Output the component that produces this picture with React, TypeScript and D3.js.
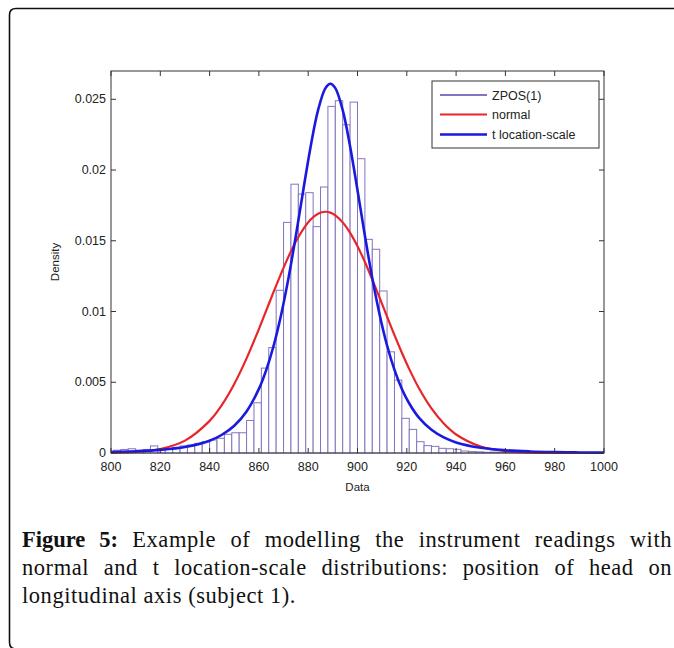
import React from "react";
import * as d3 from "d3";

// ---- data ----
const binStarts = [
  801, 804, 807, 810, 813, 816, 819, 822, 825, 828, 831, 834, 837, 840, 843, 846, 849, 852, 855, 858,
  861, 864, 867, 870, 873, 876, 879, 882, 885, 888, 891, 894, 897, 900, 903, 906, 909, 912, 915, 918,
  921, 924, 927, 930, 933, 936, 939, 942, 945, 948, 951, 954, 957, 960, 963, 966, 969, 972, 975, 978,
];
const binWidth = 3;
const binDensity = [
  0.0002, 0.00025, 0.0003, 0.0002, 0.00025, 0.0005, 0.0003, 0.0003, 0.0004, 0.0005, 0.00056, 0.00068, 0.0008,
  0.00092, 0.00104, 0.00132, 0.00143, 0.00143, 0.0023, 0.00355, 0.006, 0.00745, 0.0115, 0.0163, 0.019, 0.0183,
  0.0184, 0.016, 0.0188, 0.0245, 0.0249, 0.0232, 0.0248, 0.0208, 0.0151, 0.0144, 0.01145, 0.00715, 0.00515,
  0.00245, 0.00167, 0.0008, 0.00052, 0.00047, 0.00033, 0.0003, 0.00026, 0.00014, 0.0001, 0.00008, 0.00005,
  0.00006, 0.00004, 0.00003, 0.00002, 0.00002, 0.00001, 0.00001, 0.00001, 0.00002,
];

const curveX = [
  800, 810, 820, 830, 840, 845, 850, 855, 860, 863, 866, 869, 872, 875, 878, 881, 884, 887, 889, 891, 894,
  897, 900, 903, 906, 909, 912, 915, 918, 921, 925, 930, 935, 940, 950, 960, 970, 980, 990, 1000,
];
const normalY = [
  0.000017, 0.000076, 0.000283, 0.000877, 0.00227, 0.0034, 0.00488, 0.00669, 0.00876, 0.01008, 0.0114, 0.01268,
  0.01388, 0.01495, 0.01583, 0.0165, 0.01691, 0.01705, 0.01699, 0.0168, 0.0163, 0.01556, 0.01461, 0.0135, 0.01226,
  0.01096, 0.00964, 0.00833, 0.00709, 0.00593, 0.00456, 0.00315, 0.00208, 0.00131, 0.000455, 0.000131, 0.0000316,
  0.0000063, 0.000001, 0.0,
];
const tlsY = [
  0.0000722, 0.000123, 0.000221, 0.000424, 0.000872, 0.00129, 0.00193, 0.00294, 0.00453, 0.00588, 0.0076, 0.00976,
  0.01236, 0.01536, 0.01857, 0.02167, 0.02423, 0.02579, 0.0261, 0.02579, 0.02423, 0.02167, 0.01857, 0.01536,
  0.01236, 0.00976, 0.0076, 0.00588, 0.00453, 0.0035, 0.00248, 0.00164, 0.0011, 0.00075, 0.00037, 0.000196,
  0.00011, 0.0000653, 0.0000405, 0.0000261,
];

const xTicks = [800, 820, 840, 860, 880, 900, 920, 940, 960, 980, 1000];
const yTicks = [0, 0.005, 0.01, 0.015, 0.02, 0.025];
const yTickLabels = ["0", "0.005", "0.01", "0.015", "0.02", "0.025"];
const legendLabels = ["ZPOS(1)", "normal", "t location-scale"];
const captionLines = [
  "Example of modelling the instrument readings with",
  "normal and t location-scale distributions: position of head on",
  "longitudinal axis (subject 1).",
];

// ---- layout ----
const W = 674;
const H = 648;
const L = 111;
const R = 604;
const T = 71;
const B = 453;

const barColor = "#8474bd";
const redColor = "#e8262a";
const blueColor = "#1a1adf";
const sans = "'Liberation Sans', Arial, sans-serif";
const serif = "'Liberation Serif', 'Times New Roman', serif";

export default function App() {
  const x = d3.scaleLinear().domain([800, 1000]).range([L, R]);
  const y = d3.scaleLinear().domain([0, 0.027]).range([B, T]);

  const line = d3
    .line<[number, number]>()
    .x((d) => x(d[0]))
    .y((d) => y(d[1]))
    .curve(d3.curveCatmullRom.alpha(0.5));

  const normalPts = curveX.map((v, i) => [v, normalY[i]] as [number, number]);
  const tPts = curveX.map((v, i) => [v, tlsY[i]] as [number, number]);

  const tickLen = 5;

  const legX = 432;
  const legY = 81;
  const legW = 167;
  const legH = 67;
  const legRows = [95, 114.5, 134.5];
  const legColors = [barColor, redColor, blueColor];
  const legWidths = [2, 2, 2.5];

  return (
    <div style={{ position: "absolute", left: 0, top: 0, width: W, height: H, background: "#fff" }}>
      <svg width={W} height={H} style={{ position: "absolute", left: 0, top: 0 }}>
        <rect x={0} y={0} width={W} height={H} fill="#fff" />
        {/* outer frame */}
        <path
          d={`M ${W + 5} 8.5 L 16 8.5 Q 9.5 8.5 9.5 15 L 9.5 ${H - 6} Q 9.5 ${H + 1} 16 ${H + 1}`}
          fill="none"
          stroke="#111"
          strokeWidth={1.6}
        />
        {/* axes background */}
        <rect x={L} y={T} width={R - L} height={B - T} fill="#fff" />
        {/* histogram bars */}
        <g>
          {binStarts.map((s, i) => {
            const x0 = Math.max(x(s), L);
            const x1 = Math.min(x(s + binWidth), R);
            const h = y(0) - y(binDensity[i]);
            return (
              <rect
                key={i}
                x={x0}
                y={y(binDensity[i])}
                width={x1 - x0}
                height={h}
                fill="#fff"
                stroke={barColor}
                strokeWidth={1}
              />
            );
          })}
        </g>
        {/* curves */}
        <path d={line(normalPts) || ""} fill="none" stroke={redColor} strokeWidth={2.2} />
        <path d={line(tPts) || ""} fill="none" stroke={blueColor} strokeWidth={2.6} />
        {/* box */}
        <rect x={L} y={T} width={R - L} height={B - T} fill="none" stroke="#333" strokeWidth={1} />
        {/* ticks */}
        {xTicks.map((t) => (
          <g key={"xt" + t}>
            <line x1={x(t)} x2={x(t)} y1={B} y2={B - tickLen} stroke="#333" />
            <line x1={x(t)} x2={x(t)} y1={T} y2={T + tickLen} stroke="#333" />
            <text
              x={x(t)}
              y={B + 18}
              textAnchor="middle"
              fontFamily={sans}
              fontSize={12.5}
              fill="#222"
            >
              {t}
            </text>
          </g>
        ))}
        {yTicks.map((t, i) => (
          <g key={"yt" + t}>
            <line x1={L} x2={L + tickLen} y1={y(t)} y2={y(t)} stroke="#333" />
            <line x1={R} x2={R - tickLen} y1={y(t)} y2={y(t)} stroke="#333" />
            <text
              x={L - 5}
              y={y(t) + 4}
              textAnchor="end"
              fontFamily={sans}
              fontSize={12.5}
              fill="#222"
            >
              {yTickLabels[i]}
            </text>
          </g>
        ))}
        {/* axis titles */}
        <text x={(L + R) / 2} y={491} textAnchor="middle" fontFamily={sans} fontSize={11.5} fill="#222">
          Data
        </text>
        <text
          transform={`translate(59, ${(T + B) / 2}) rotate(-90)`}
          textAnchor="middle"
          fontFamily={sans}
          fontSize={11.5}
          fill="#222"
        >
          Density
        </text>
        {/* legend */}
        <rect x={legX} y={legY} width={legW} height={legH} fill="#fff" stroke="#333" strokeWidth={1} />
        {legendLabels.map((lab, i) => (
          <g key={lab}>
            <line
              x1={440}
              x2={487}
              y1={legRows[i]}
              y2={legRows[i]}
              stroke={legColors[i]}
              strokeWidth={legWidths[i]}
            />
            <text x={492} y={legRows[i] + 4.5} fontFamily={sans} fontSize={12.5} fill="#222">
              {lab}
            </text>
          </g>
        ))}
      </svg>
      {/* caption */}
      <div
        style={{
          position: "absolute",
          left: 22,
          top: 526,
          width: 650,
          fontFamily: serif,
          fontSize: 22.5,
          letterSpacing: "0.55px",
          lineHeight: "28px",
          color: "#111",
        }}
      >
        <div style={{ textAlign: "justify", textAlignLast: "justify", whiteSpace: "nowrap" as const }}>
          <b style={{ letterSpacing: "0px" }}>Figure 5:</b> {captionLines[0]}
        </div>
        <div style={{ textAlign: "justify", textAlignLast: "justify" }}>{captionLines[1]}</div>
        <div style={{ textAlign: "left" }}>{captionLines[2]}</div>
      </div>
    </div>
  );
}
